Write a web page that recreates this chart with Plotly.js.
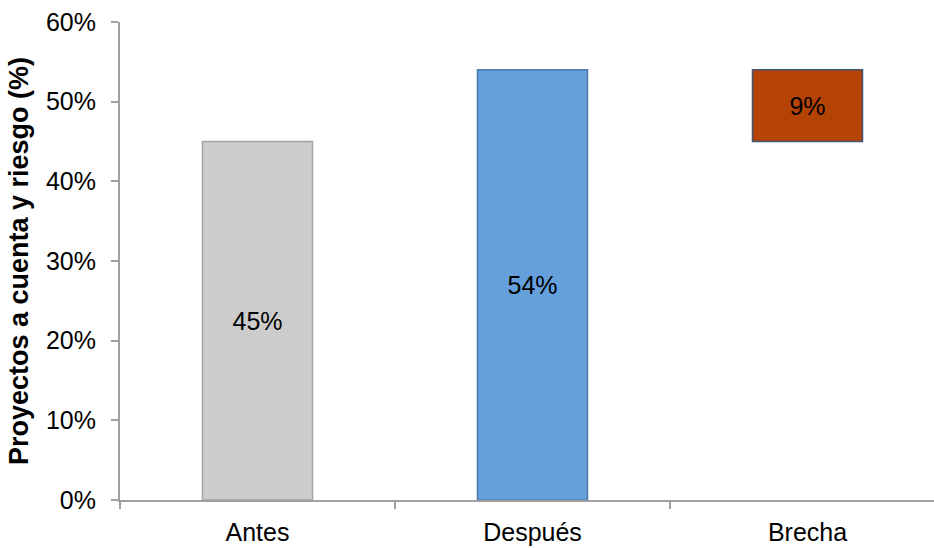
<!DOCTYPE html>
<html>
<head>
<meta charset="utf-8">
<script src="https://cdn.plot.ly/plotly-3.0.1.min.js"></script>
<style>
  html, body { margin: 0; padding: 0; background: #fff; overflow: hidden; }
  #chart { width: 934px; height: 548px; }
</style>
</head>
<body>
<div id="chart"></div>
<script>
// Share of projects "a cuenta y riesgo", before and after, plus the gap
const categories = ['Antes', 'Después', 'Brecha'];
const barTops = [45, 54, 9];          // bar heights (percent)
const barBases = [0, 0, 45];          // the gap bar floats on top of "Antes"
const barLabels = ['45%', '54%', '9%'];
const fillColors = ['#cccccc', '#659fdc', '#b54306'];
const lineColors = ['#a3a3a3', '#4e77a8', '#3f5678'];
const yTickVals = [0, 10, 20, 30, 40, 50, 60];
const yTickText = ['0%', '10%', '20%', '30%', '40%', '50%', '60%'];

const axisGrey = '#a0a0a0';
const font = 'Arial, "Liberation Sans", Helvetica, sans-serif';

const trace = {
  type: 'bar',
  x: categories,
  y: barTops,
  base: barBases,
  width: 0.4,
  text: barLabels,
  texttemplate: '%{text}',
  textposition: 'inside',
  insidetextanchor: 'middle',
  textangle: 0,
  textfont: { family: font, size: 25, color: '#000000' },
  marker: {
    color: fillColors,
    line: { color: lineColors, width: 1.5 }
  },
  hoverinfo: 'skip'
};

const layout = {
  width: 934,
  height: 548,
  margin: { l: 120, r: 0, t: 22, b: 48, pad: 0 },
  paper_bgcolor: '#ffffff',
  plot_bgcolor: '#ffffff',
  showlegend: false,
  font: { family: font, size: 25, color: '#000000' },
  xaxis: {
    type: 'category',
    range: [-0.5, 2.46],
    showgrid: false,
    zeroline: false,
    showline: true,
    linecolor: axisGrey,
    linewidth: 2,
    ticks: 'outside',
    tickson: 'boundaries',
    ticklen: 7,
    tickwidth: 2,
    tickcolor: axisGrey,
    tickfont: { family: font, size: 25, color: '#000000' },
    ticklabelstandoff: 9
  },
  yaxis: {
    range: [0, 60],
    tickvals: yTickVals,
    ticktext: yTickText,
    showgrid: false,
    zeroline: false,
    showline: true,
    linecolor: axisGrey,
    linewidth: 2,
    ticks: 'outside',
    ticklen: 7,
    tickwidth: 2,
    tickcolor: axisGrey,
    tickfont: { family: font, size: 25, color: '#000000' },
    ticklabelstandoff: 10,
    title: {
      text: 'Proyectos a cuenta y riesgo (%)',
      font: { family: font, size: 27, color: '#000000', weight: 'bold' },
      standoff: 10
    }
  }
};

Plotly.newPlot('chart', [trace], layout, { staticPlot: true, displayModeBar: false });
</script>
</body>
</html>
